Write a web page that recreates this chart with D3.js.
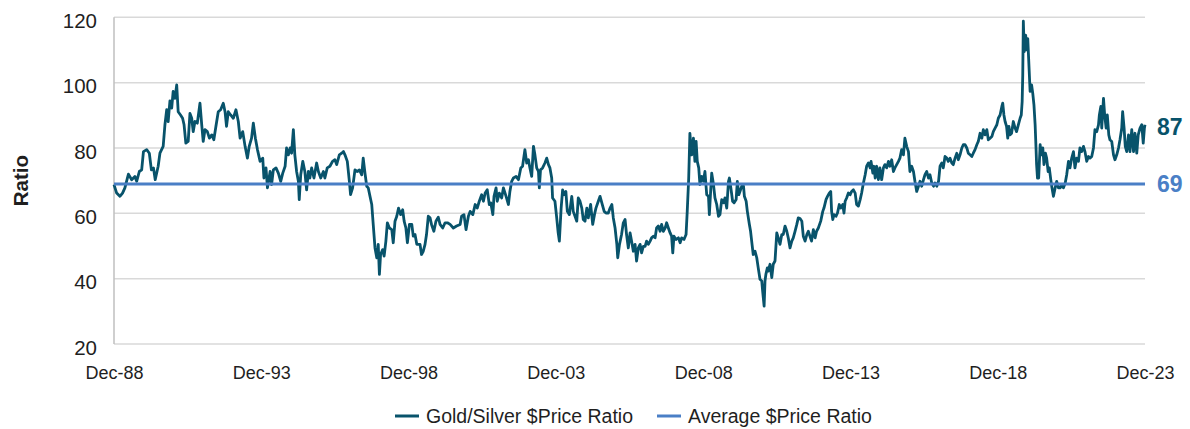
<!DOCTYPE html>
<html><head><meta charset="utf-8">
<script src="https://cdn.jsdelivr.net/npm/d3@7"></script>
<style>
html,body{margin:0;padding:0;background:#fff;}
svg{display:block;}
text{font-family:"Liberation Sans",Arial,sans-serif;fill:#1f1f1f;}
</style></head><body>
<svg id="chart" width="1190" height="429"></svg>
<script>
// ---- data (decimal years) ----
const dates = [
1988.96,1989.05,1989.16,1989.25,1989.33,1989.45,1989.56,1989.67,1989.73,1989.82,1989.90,1989.96,1990.07,1990.16,1990.23,1990.30,1990.36,1990.46,1990.52,1990.63,1990.69,1990.75,1990.80,1990.86,1990.92,1990.97,1991.03,1991.09,1991.14,1991.22,1991.29,1991.34,1991.40,1991.48,1991.54,1991.60,1991.65,1991.71,1991.79,1991.88,1991.94,1991.99,1992.05,1992.13,1992.20,1992.28,1992.35,1992.42,1992.50,1992.58,1992.67,1992.73,1992.78,1992.84,1992.92,1993.01,1993.10,1993.18,1993.24,1993.33,1993.41,1993.49,1993.55,1993.63,1993.69,1993.76,1993.83,1993.92,1994.01,1994.05,1994.12,1994.17,1994.26,1994.31,1994.37,1994.46,1994.54,1994.62,1994.69,1994.77,1994.82,1994.88,1994.94,1994.99,1995.05,1995.10,1995.16,1995.22,1995.25,1995.30,1995.37,1995.44,1995.50,1995.56,1995.61,1995.67,1995.75,1995.84,1995.90,1995.98,1996.07,1996.12,1996.20,1996.29,1996.38,1996.46,1996.52,1996.61,1996.69,1996.75,1996.80,1996.88,1996.95,1996.99,1997.06,1997.14,1997.22,1997.29,1997.37,1997.42,1997.48,1997.54,1997.59,1997.65,1997.71,1997.76,1997.82,1997.88,1997.93,1997.97,1998.01,1998.08,1998.13,1998.19,1998.24,1998.31,1998.39,1998.44,1998.50,1998.56,1998.62,1998.69,1998.76,1998.81,1998.87,1998.92,1998.99,1999.07,1999.12,1999.18,1999.24,1999.35,1999.40,1999.46,1999.52,1999.57,1999.63,1999.69,1999.74,1999.82,1999.89,1999.97,2000.03,2000.12,2000.20,2000.28,2000.37,2000.48,2000.59,2000.71,
2000.76,2000.84,2000.91,2000.99,2001.05,2001.14,2001.22,2001.29,2001.36,2001.44,2001.50,2001.56,2001.63,2001.70,2001.75,2001.82,2001.86,2001.93,2001.97,2002.04,2002.12,2002.18,2002.27,2002.35,2002.40,2002.46,2002.52,2002.61,2002.69,2002.77,2002.83,2002.91,2002.97,2003.03,2003.08,2003.14,2003.20,2003.25,2003.31,2003.37,2003.40,2003.44,2003.51,2003.59,2003.65,2003.71,2003.76,2003.82,2003.85,2003.93,2003.99,2004.04,2004.08,2004.14,2004.19,2004.24,2004.30,2004.35,2004.42,2004.50,2004.55,2004.61,2004.67,2004.72,2004.78,2004.84,2004.89,2004.95,2005.01,2005.06,2005.14,2005.21,2005.27,2005.32,2005.40,2005.46,2005.52,2005.60,2005.66,2005.74,2005.80,2005.86,2005.91,2005.97,2006.03,2006.06,2006.12,2006.19,2006.25,2006.31,2006.36,2006.42,2006.48,2006.53,2006.59,2006.65,2006.70,2006.76,2006.82,2006.87,2006.93,2006.99,2007.04,2007.10,2007.16,2007.21,2007.27,2007.33,2007.38,2007.44,2007.50,2007.55,2007.61,2007.67,2007.72,2007.78,2007.84,2007.89,2007.93,2007.97,2008.04,2008.12,2008.18,2008.23,2008.31,2008.38,2008.42,2008.47,2008.51,2008.57,2008.63,2008.68,2008.72,2008.76,2008.81,2008.85,2008.91,2008.97,2009.02,2009.08,2009.14,2009.17,2009.22,2009.25,2009.31,2009.36,2009.42,2009.48,2009.53,2009.59,2009.65,2009.70,2009.76,2009.82,2009.85,2009.90,2009.96,2010.01,2010.08,2010.12,2010.17,2010.21,2010.27,2010.33,2010.36,2010.42,2010.46,2010.53,2010.57,2010.62,2010.66,2010.72,2010.78,2010.83,2010.89,2010.95,2010.98,2011.03,2011.06,2011.09,2011.14,2011.17,2011.23,2011.29,2011.34,2011.40,2011.46,2011.51,2011.57,2011.63,2011.68,2011.74,2011.80,2011.85,2011.91,2011.97,2012.02,2012.08,2012.14,2012.19,2012.25,2012.31,2012.36,2012.42,2012.48,2012.53,
2012.64,2012.70,2012.76,2012.81,2012.87,2012.95,2013.02,2013.06,2013.13,2013.18,2013.24,2013.29,2013.32,2013.36,2013.40,2013.47,2013.52,2013.58,2013.63,2013.70,2013.74,2013.78,2013.83,2013.89,2013.95,2014.00,2014.06,2014.12,2014.17,2014.23,2014.29,2014.34,2014.40,2014.46,2014.51,2014.57,2014.63,2014.66,2014.72,2014.76,2014.80,2014.85,2014.91,2014.96,2015.02,2015.08,2015.13,2015.19,2015.25,2015.30,2015.36,2015.42,2015.47,2015.53,2015.59,2015.64,2015.70,2015.76,2015.81,2015.87,2015.93,2015.98,2016.04,2016.10,2016.15,2016.21,2016.27,2016.32,2016.38,2016.44,2016.49,2016.55,2016.61,2016.66,2016.72,2016.78,2016.83,2016.89,2016.95,2017.00,2017.06,2017.11,2017.17,2017.23,2017.28,2017.34,2017.40,2017.45,2017.51,2017.57,2017.62,2017.68,2017.74,2017.79,2017.85,2017.91,2017.96,2018.02,2018.08,2018.13,2018.19,2018.25,2018.30,2018.36,2018.42,2018.47,2018.53,2018.59,2018.64,2018.70,2018.76,2018.81,2018.87,2018.93,2018.98,2019.04,2019.10,2019.13,2019.17,2019.21,2019.26,2019.30,2019.34,2019.38,2019.43,2019.49,2019.55,2019.60,2019.66,2019.72,2019.76,2019.79,2019.81,2019.83,2019.86,2019.91,2019.94,2019.98,2020.01,2020.06,2020.11,2020.15,2020.19,2020.23,2020.26,2020.28,2020.31,2020.35,2020.40,2020.44,2020.49,2020.53,2020.58,2020.62,2020.67,2020.71,2020.76,2020.80,2020.85,2020.91,2020.96,2021.02,2021.08,2021.13,2021.19,2021.25,2021.30,2021.36,2021.41,2021.47,2021.53,2021.58,2021.64,2021.70,2021.75,2021.81,2021.87,2021.92,2021.98,2022.04,2022.09,2022.15,2022.21,2022.26,2022.32,2022.38,2022.41,2022.46,2022.49,2022.55,2022.59,2022.64,2022.68,2022.73,2022.77,2022.83,2022.89,2022.94,2023.00,2023.06,2023.11,2023.17,2023.20,2023.25,2023.29,2023.34,2023.40,2023.45,2023.51,2023.57,2023.62,2023.68,2023.73,2023.79,2023.85,2023.90,2023.94,2023.96
];
const ratio = [
68.8,66.2,65.2,66.2,67.8,72.0,70.3,71.3,69.8,72.8,73.3,78.9,79.5,78.4,73.3,73.9,70.3,74.4,78.4,80.5,87.1,91.7,88.1,94.4,92.2,97.3,95.2,99.3,91.1,90.1,89.1,87.1,81.5,82.0,90.6,89.1,85.0,88.1,87.6,93.7,87.1,82.0,85.6,85.0,83.0,84.0,82.5,86.6,91.1,91.7,93.7,91.1,86.6,91.1,90.1,89.1,91.7,88.1,83.0,85.0,80.5,76.9,80.5,83.0,87.6,83.0,79.5,75.9,76.9,70.8,73.9,67.8,72.8,68.8,73.3,73.9,72.3,69.8,72.3,74.4,80.0,77.9,80.0,78.4,85.6,77.9,72.8,69.8,64.2,71.8,75.9,72.8,67.2,72.8,70.8,73.9,70.8,75.4,72.8,70.8,72.8,70.8,73.9,74.4,75.9,76.4,74.9,77.9,78.4,78.9,77.9,75.9,69.8,65.7,67.8,73.3,72.8,73.3,71.8,76.9,72.3,68.3,67.8,65.2,62.7,56.6,49.4,46.4,50.5,41.3,47.4,48.9,46.9,51.5,57.1,55.5,55.0,51.0,57.6,59.1,61.6,59.6,61.1,57.6,55.5,51.0,56.6,56.6,53.0,53.5,50.5,50.5,47.4,48.4,50.5,53.5,59.1,58.6,56.6,54.5,57.6,58.8,56.6,55.5,57.1,57.1,56.6,55.5,56.1,56.6,
59.1,59.6,55.0,59.1,60.6,59.6,62.7,61.6,63.7,65.7,63.7,66.2,67.2,62.7,63.2,59.6,65.2,67.8,63.7,66.2,64.7,67.8,65.2,62.7,66.7,69.8,70.8,71.3,70.3,73.9,74.4,79.5,75.4,76.4,73.9,71.3,80.5,77.9,73.9,72.8,67.8,73.3,73.9,75.4,76.9,74.9,73.9,70.8,64.7,63.7,58.6,54.0,51.5,61.6,67.2,65.7,66.7,60.6,59.6,65.2,60.6,59.1,57.6,64.7,63.7,61.6,58.1,57.6,61.6,58.6,62.7,56.6,59.6,61.6,63.7,65.2,63.2,60.6,60.1,60.1,61.6,62.7,58.6,55.5,50.5,46.4,50.5,53.5,57.1,58.1,53.5,49.4,54.0,51.5,48.4,50.5,45.4,49.4,50.5,47.9,49.9,49.9,51.5,50.5,51.5,52.5,53.0,52.5,55.5,56.1,54.5,56.6,54.5,55.5,57.1,55.5,54.0,53.0,47.9,53.0,52.0,52.5,51.0,52.5,52.0,53.5,60.6,70.8,84.5,77.9,83.0,75.9,82.0,75.9,73.9,68.8,71.3,69.8,72.8,65.7,65.2,59.6,67.8,72.3,68.8,64.7,62.7,59.1,59.6,64.2,63.2,64.7,61.6,69.8,70.8,67.8,63.7,63.2,64.2,69.8,65.7,66.7,68.3,68.3,65.2,63.7,60.6,56.6,54.5,50.5,47.4,48.4,46.4,43.3,39.8,39.3,36.2,31.6,39.3,41.3,43.3,42.3,44.4,40.3,44.4,45.4,54.0,52.5,50.5,53.5,53.5,56.1,54.5,52.5,49.4,51.5,52.5,54.5,56.6,58.6,58.4,57.6,53.0,51.5,53.5,54.5,
51.5,55.0,52.5,54.5,55.5,57.6,60.6,61.6,64.2,65.2,66.2,66.7,60.6,58.1,59.6,59.1,60.1,62.7,61.6,62.7,60.1,63.7,64.7,66.2,65.7,66.7,67.2,66.2,62.7,62.2,64.2,66.2,69.3,71.8,74.4,75.4,73.9,75.9,72.3,74.4,70.8,74.4,70.3,73.9,70.3,73.9,74.9,73.9,75.9,74.4,76.4,72.8,73.9,74.9,75.9,76.9,79.5,77.9,83.0,80.5,78.9,72.8,74.4,72.8,69.8,66.7,68.3,69.8,68.3,70.3,71.8,72.8,70.8,71.8,69.3,68.3,69.3,68.3,69.8,74.4,75.4,73.9,77.4,76.9,75.9,76.9,75.4,74.9,76.9,78.4,76.4,77.9,80.0,81.0,81.0,80.0,78.4,77.9,77.4,78.4,79.5,81.0,82.0,84.5,83.0,85.6,84.0,85.6,82.5,83.0,83.5,85.0,86.1,87.1,89.1,90.1,92.7,93.7,90.1,88.1,86.6,83.0,86.6,84.0,84.5,88.1,86.1,85.0,87.1,89.1,90.1,94.2,102.3,118.8,109.5,114.5,110.0,113.5,107.4,97.3,99.3,96.7,93.2,87.1,80.0,74.9,70.8,70.8,81.0,77.9,80.0,74.9,78.4,76.9,72.8,73.9,70.3,67.8,65.2,67.8,69.8,67.8,67.8,68.8,67.8,69.3,71.8,75.9,73.9,76.9,78.9,73.9,76.9,75.9,80.0,78.9,80.5,78.9,75.9,77.4,76.9,77.4,80.0,85.6,85.0,87.1,90.1,92.7,86.1,95.2,90.1,86.1,90.1,84.0,82.5,82.0,77.9,76.4,77.9,80.0,82.5,86.1,91.1,86.1,80.5,78.9,84.0,78.9,85.6,78.9,84.5,78.4,84.0,86.1,87.1,81.5,86.1,87.1
];
const averageRatio = 69;
const latestRatio = 87;
const yTicks = [20, 40, 60, 80, 100, 120];
const xTickYears = [1988.96, 1993.96, 1998.96, 2003.96, 2008.96, 2013.96, 2018.96, 2023.96];
const xTickLabels = ["Dec-88", "Dec-93", "Dec-98", "Dec-03", "Dec-08", "Dec-13", "Dec-18", "Dec-23"];
const seriesNames = ["Gold/Silver $Price Ratio", "Average $Price Ratio"];
const yAxisTitle = "Ratio";

// ---- helpers ----
function toDate(dy) {
  const yr = Math.floor(dy);
  const a = Date.UTC(yr, 0, 1), b = Date.UTC(yr + 1, 0, 1);
  return new Date(a + (dy - yr) * (b - a));
}
const COL_MAIN = "#08536b";
const COL_AVG = "#4a7fc6";
const FONT = '"Liberation Sans", Arial, sans-serif';

const svg = d3.select("#chart");
const plot = { left: 114, right: 1145, top: 17.3, bottom: 344 };

const x = d3.scaleUtc()
  .domain([toDate(xTickYears[0]), toDate(xTickYears[xTickYears.length - 1])])
  .range([plot.left, plot.right]);
const y = d3.scaleLinear().domain([20, 120]).range([plot.bottom, plot.top]);

// gridlines
svg.append("g").selectAll("line").data(yTicks).join("line")
  .attr("x1", plot.left).attr("x2", plot.right)
  .attr("y1", d => y(d)).attr("y2", d => y(d))
  .attr("stroke", "#d9d9d9").attr("stroke-width", 1.5);

// left axis line
svg.append("line")
  .attr("x1", plot.left).attr("x2", plot.left)
  .attr("y1", y(120)).attr("y2", y(20))
  .attr("stroke", "#bfbfbf").attr("stroke-width", 1.5);

// y axis labels
const yAxis = svg.append("g").attr("transform", `translate(${plot.left},0)`)
  .call(d3.axisLeft(y).tickValues(yTicks).tickSize(0).tickPadding(17));
yAxis.attr("font-family", FONT).attr("font-size", 20.5);
yAxis.select(".domain").remove();
yAxis.selectAll("text").attr("dy", "0.5em").attr("fill", "#1f1f1f");

// x axis labels
const xAxis = svg.append("g").attr("transform", `translate(0,${plot.bottom})`)
  .call(d3.axisBottom(x).tickValues(xTickYears.map(toDate))
    .tickFormat((d, i) => xTickLabels[i]).tickSize(0).tickPadding(22));
xAxis.attr("font-family", FONT).attr("font-size", 18);
xAxis.select(".domain").remove();
xAxis.selectAll("text").attr("fill", "#1f1f1f");

// y axis title
svg.append("text")
  .attr("transform", `translate(28,${(y(120) + y(20)) / 2}) rotate(-90)`)
  .attr("text-anchor", "middle")
  .attr("font-size", 20.5).attr("font-weight", "bold")
  .text(yAxisTitle);

// main series
const pts = dates.map((d, i) => [toDate(d), ratio[i]]);
svg.append("path").datum(pts)
  .attr("fill", "none").attr("stroke", COL_MAIN).attr("stroke-width", 2.8)
  .attr("stroke-linejoin", "round")
  .attr("d", d3.line().x(d => x(d[0])).y(d => y(d[1])));

// average line
svg.append("line")
  .attr("x1", x(toDate(dates[0]))).attr("x2", x(toDate(dates[dates.length - 1])))
  .attr("y1", y(averageRatio)).attr("y2", y(averageRatio))
  .attr("stroke", COL_AVG).attr("stroke-width", 3);

// end labels
svg.append("text").attr("x", plot.right + 12).attr("y", y(latestRatio)).attr("dy", "0.45em")
  .attr("font-size", 23).attr("font-weight", "bold").style("fill", COL_MAIN)
  .text(latestRatio);
svg.append("text").attr("x", plot.right + 12).attr("y", y(averageRatio)).attr("dy", "0.36em")
  .attr("font-size", 23).attr("font-weight", "bold").style("fill", COL_AVG)
  .text(averageRatio);

// legend
const legend = svg.append("g");
let lx = 395;
const ly = 416;
[COL_MAIN, COL_AVG].forEach((c, i) => {
  legend.append("line").attr("x1", lx).attr("x2", lx + 24).attr("y1", ly).attr("y2", ly)
    .attr("stroke", c).attr("stroke-width", 3);
  const t = legend.append("text").attr("x", lx + 31).attr("y", ly).attr("dy", "0.36em")
    .attr("font-size", 19.5).text(seriesNames[i]);
  lx += 31 + t.node().getComputedTextLength() + 24;
});
</script>
</body></html>
